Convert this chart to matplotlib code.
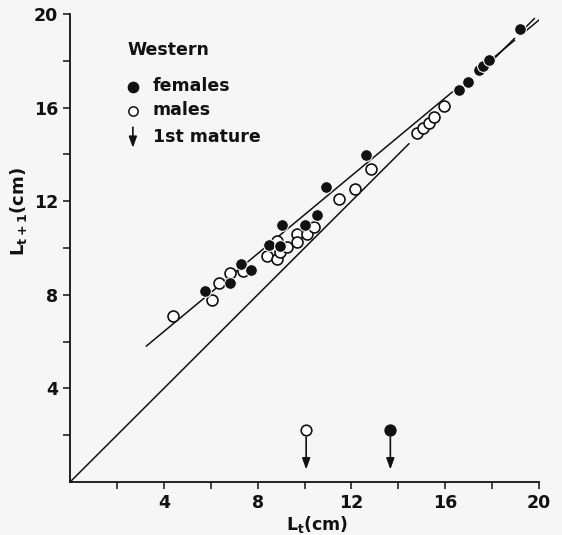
import matplotlib
matplotlib.use('Agg')
import matplotlib.pyplot as plt
import numpy as np

plt.rcParams['font.family'] = ['DejaVu Sans']
plt.rcParams['mathtext.default'] = 'bf'

INK = '#111111'
BG = '#f6f6f6'

# growth data, L(t) vs L(t+1), cm
fem_lt = [5.77, 6.84, 7.29, 7.70, 8.48, 8.96, 9.05, 10.00, 10.52, 10.90, 12.61,
          16.57, 16.98, 17.45, 17.63, 17.88, 19.20]
fem_lt1 = [8.18, 8.52, 9.33, 9.05, 10.11, 10.07, 10.97, 10.97, 11.43, 12.61, 13.97,
           16.75, 17.11, 17.61, 17.78, 18.04, 19.35]

male_lt = [4.39, 6.04, 6.37, 6.81, 7.37, 8.38, 8.83, 8.83, 8.97, 9.26, 9.66, 9.69,
           10.11, 10.40, 11.47, 12.17, 12.82, 14.81, 15.06, 15.29, 15.53, 15.95]
male_lt1 = [7.09, 7.78, 8.49, 8.94, 9.02, 9.66, 10.30, 9.52, 9.84, 10.06, 10.59, 10.24,
            10.59, 10.88, 12.11, 12.54, 13.38, 14.90, 15.11, 15.35, 15.61, 16.07]

# length at first maturity
mature_male = 10.07
mature_female = 13.66
mature_y = 2.24

# fitted line L(t+1) = a + b L(t), drawn in pieces (broken around points)
fit_a, fit_b = 3.10, 0.832
fit_pieces = [(3.26, 16.3), (18.0, 18.95), (19.45, 20.0)]
diag_pieces = [(0.0, 14.45), (18.0, 18.95), (19.45, 19.8)]

major = [4, 8, 12, 16, 20]
minor = [2, 6, 10, 14, 18]

ARROW = '-|>,head_length=0.55,head_width=0.2'

fig = plt.figure(figsize=(5.62, 5.35), dpi=100, facecolor=BG)
ax = fig.add_axes([0.1246, 0.099, 0.8345, 0.875])
ax.set_facecolor(BG)

for x0, x1 in diag_pieces:
    xs = np.array([x0, x1])
    ax.plot(xs, xs, color=INK, lw=1.1, zorder=2)
for x0, x1 in fit_pieces:
    xs = np.array([x0, x1])
    ax.plot(xs, fit_a + fit_b * xs, color=INK, lw=1.1, zorder=2)

ax.scatter(male_lt, male_lt1, s=62, facecolor='white', edgecolor=INK,
           linewidths=1.2, zorder=3)
ax.scatter(fem_lt, fem_lt1, s=72, facecolor=INK, edgecolor=BG,
           linewidths=0.8, zorder=4)

# maturity markers
ax.scatter([mature_male], [mature_y], s=58, facecolor='white', edgecolor=INK,
           linewidths=1.2, zorder=4)
ax.scatter([mature_female], [mature_y], s=62, facecolor=INK, edgecolor=INK, zorder=4)
for xm in [mature_male, mature_female]:
    ax.annotate('', xy=(xm, 0.42), xytext=(xm, mature_y - 0.2),
                arrowprops=dict(arrowstyle=ARROW, color=INK, lw=1.2, mutation_scale=12))

# key
ax.text(0.122, 0.923, 'Western', transform=ax.transAxes, fontsize=12.5,
        fontweight='bold', color=INK, va='center')
ax.scatter([0.134], [0.844], s=55, color=INK, transform=ax.transAxes, clip_on=False)
ax.scatter([0.134], [0.793], s=45, facecolor='white', edgecolor=INK,
           linewidths=1.1, transform=ax.transAxes, clip_on=False)
ax.text(0.176, 0.846, 'females', transform=ax.transAxes, fontsize=12.5,
        fontweight='bold', color=INK, va='center')
ax.text(0.176, 0.795, 'males', transform=ax.transAxes, fontsize=12.5,
        fontweight='bold', color=INK, va='center')
ax.annotate('', xy=(0.134, 0.708), xytext=(0.134, 0.764), xycoords='axes fraction',
            arrowprops=dict(arrowstyle=ARROW, color=INK, lw=1.2, mutation_scale=12))
ax.text(0.176, 0.737, '1st mature', transform=ax.transAxes, fontsize=12.5,
        fontweight='bold', color=INK, va='center')

ax.set_xlim(0, 20)
ax.set_ylim(0, 20)
ax.set_xticks(major)
ax.set_yticks(major)
ax.set_xticks(minor, minor=True)
ax.set_yticks(minor, minor=True)
ax.tick_params(which='both', direction='out', length=5, width=1.1, color=INK,
               labelsize=12.5, labelcolor=INK)
for lab in ax.get_xticklabels() + ax.get_yticklabels():
    lab.set_fontweight('bold')

for side in ['top', 'right']:
    ax.spines[side].set_visible(False)
for side in ['left', 'bottom']:
    ax.spines[side].set_linewidth(1.3)
    ax.spines[side].set_color(INK)

ax.set_xlabel('L$_{t}$(cm)', fontsize=12.5, fontweight='bold', color=INK)
ax.xaxis.set_label_coords(0.527, -0.068)
ax.set_ylabel('L$_{t+1}$(cm)', fontsize=13, fontweight='bold', color=INK)
ax.yaxis.set_label_coords(-0.088, 0.577)

fig.savefig('out.png', dpi=100, facecolor=BG)
